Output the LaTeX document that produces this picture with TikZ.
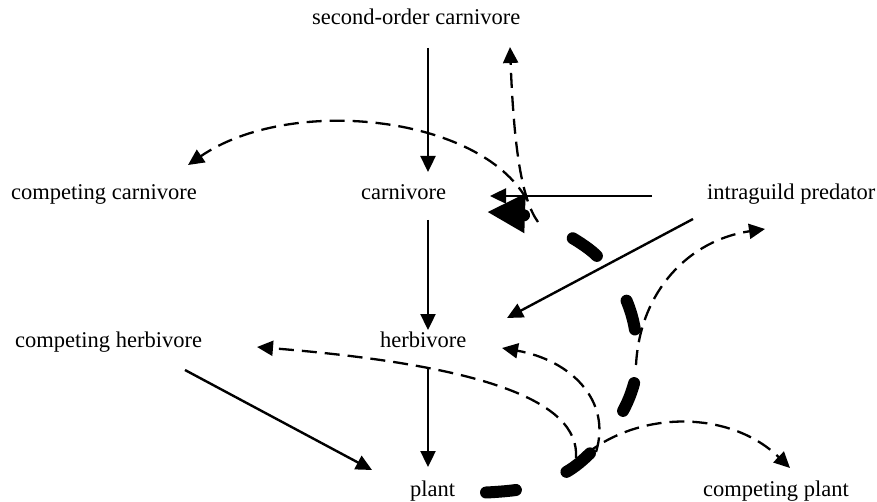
\documentclass[tikz,border=0pt]{standalone}
\usepackage{fontspec}
\setmainfont{Liberation Serif}
\usetikzlibrary{arrows.meta}
\begin{document}
\begin{tikzpicture}[x=1pt,y=-1pt,
  lbl/.style={anchor=base west, inner sep=0pt, font=\fontsize{22.5}{27}\selectfont},
  solidarr/.style={line width=2.4pt, -{Triangle[length=16pt,width=15pt]}},
  dasharr/.style={line width=2.3pt, dash pattern=on 15pt off 8pt, -{Triangle[length=16pt,width=15pt]}},
  thickpath/.style={line width=12pt, line cap=round, dash pattern=on 30pt off 54pt, -{Triangle[length=38pt,width=37pt]}}]
\useasboundingbox (0,0) rectangle (877,502);
% labels
\node[lbl] (soc) at (312,25) {second-order carnivore};
\node[lbl] (cc)  at (11,200) {competing carnivore};
\node[lbl] (car) at (361,200) {carnivore};
\node[lbl] (igp) at (707,200) {intraguild predator};
\node[lbl] (ch)  at (15,347) {competing herbivore};
\node[lbl] (her) at (380,347) {herbivore};
\node[lbl] (pl)  at (410,496) {plant};
\node[lbl] (cp)  at (703,496) {competing plant};
% connector ends
\coordinate (soc-s) at (428,48);
\coordinate (car-n) at (428,172);
\coordinate (car-s) at (428,220);
\coordinate (her-n) at (428,330);
\coordinate (her-s) at (428,367);
\coordinate (pl-n)  at (428,467);
\coordinate (igp-w) at (652,196);
\coordinate (car-e) at (490,196);
\coordinate (igp-sw) at (693,219);
\coordinate (her-ne) at (507,318);
\coordinate (ch-se) at (185,370);
\coordinate (pl-nw) at (372,470);
\coordinate (soc-se) at (510,47);
\coordinate (cc-ne) at (188,165);
\coordinate (igp-s) at (765,229);
\coordinate (her-e) at (502,348);
\coordinate (ch-e) at (257,347);
\coordinate (cp-n) at (790,468);
\coordinate (pl-e) at (486,492.5);
\coordinate (car-se) at (487,212);
% indirect effects (thin dashed)
\draw[dasharr] (538,222) .. controls (522,200) and (514,150) .. (soc-se);
\draw[dasharr] (527,200) .. controls (480,115) and (290,95) .. (cc-ne);
\draw[dasharr] (636,365) .. controls (640,290) and (690,240) .. (igp-s);
\draw[dasharr] (596,452) .. controls (612,400) and (570,360) .. (her-e);
\draw[dasharr] (576,458) .. controls (580,400) and (480,365) .. (ch-e);
\draw[dasharr] (585,455) .. controls (640,410) and (730,410) .. (cp-n);
% direct links
\draw[solidarr] (soc-s) -- (car-n);
\draw[solidarr] (car-s) -- (her-n);
\draw[solidarr] (her-s) -- (pl-n);
\draw[solidarr] (igp-w) -- (car-e);
\draw[solidarr] (igp-sw) -- (her-ne);
\draw[solidarr] (ch-se) -- (pl-nw);
% thick bottom-up path
\draw[thickpath] plot[smooth, tension=0.55] coordinates {(pl-e) (527,488) (568,471) (597,446) (623,411) (636,374) (635,330) (623,293) (597,256) (562,232) (527,216) (car-se)};
\end{tikzpicture}
\end{document}
